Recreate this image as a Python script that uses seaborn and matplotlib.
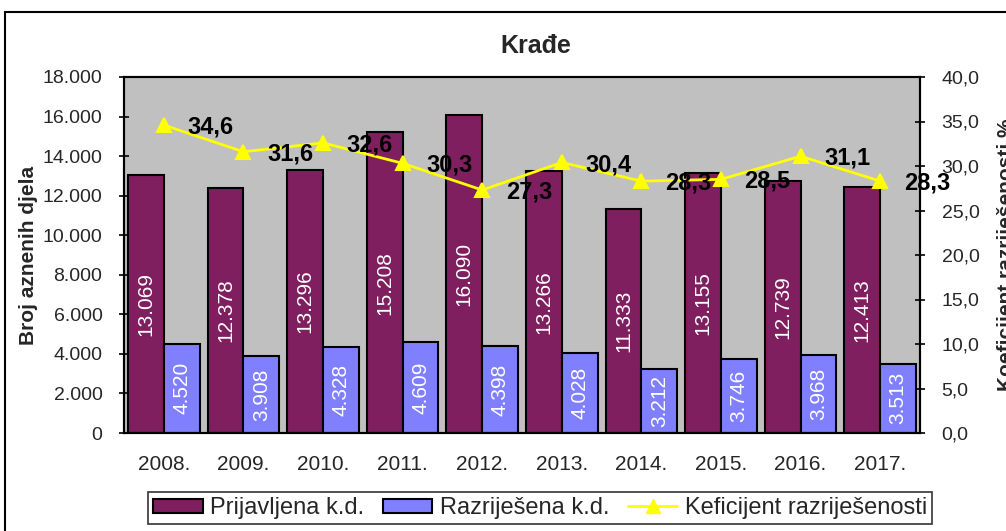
import matplotlib
matplotlib.use("Agg")
import matplotlib.pyplot as plt
import seaborn as sns
import pandas as pd
from matplotlib.patches import Patch, Rectangle
from matplotlib.lines import Line2D

years = ["2008.", "2009.", "2010.", "2011.", "2012.", "2013.", "2014.", "2015.", "2016.", "2017."]
prijavljena = [13069, 12378, 13296, 15208, 16090, 13266, 11333, 13155, 12739, 12413]
razrijesena = [4520, 3908, 4328, 4609, 4398, 4028, 3212, 3746, 3968, 3513]
koeficijent = [34.6, 31.6, 32.6, 30.3, 27.3, 30.4, 28.3, 28.5, 31.1, 28.3]
series_names = ["Prijavljena k.d.", "Razriješena k.d."]
line_name = "Keficijent razriješenosti"
left_ticks = [0, 2000, 4000, 6000, 8000, 10000, 12000, 14000, 16000, 18000]
right_ticks = [0, 5, 10, 15, 20, 25, 30, 35, 40]

c_bar1 = "#7F1F5F"
c_bar2 = "#8080FF"
c_line = "#FFFF00"

sns.set_theme(style="white")
plt.rcParams["font.family"] = ["Liberation Sans", "DejaVu Sans"]

df = pd.DataFrame({
    "year": years * 2,
    "value": prijavljena + razrijesena,
    "series": [series_names[0]] * len(years) + [series_names[1]] * len(years),
})
df_line = pd.DataFrame({"year": years, "coef": koeficijent})

fig = plt.figure(figsize=(10.06, 5.31), dpi=100)
ax = fig.add_axes([124 / 1006, 1 - 433 / 531, (920 - 124) / 1006, (433 - 77) / 531])
ax.set_facecolor("#C0C0C0")

sns.barplot(data=df, x="year", y="value", hue="series", order=years,
            hue_order=series_names, palette=[c_bar1, c_bar2], width=0.9,
            edgecolor="black", linewidth=1.5, saturation=1, legend=False, ax=ax)

for cont in ax.containers:
    labels = [f"{int(v):,}".replace(",", ".") for v in cont.datavalues]
    ax.bar_label(cont, labels=labels, label_type="center", rotation=90,
                 color="white", fontsize=15)

ax.set_ylim(0, 18000)
ax.set_xlim(-0.5, len(years) - 0.5)
ax.set_yticks(left_ticks)
ax.set_yticklabels([f"{v:,}".replace(",", ".") for v in left_ticks], fontsize=14)
ax.set_xticks([i - 0.5 for i in range(len(years) + 1)])
ax.set_xticklabels([])
ax.set_xticks(range(len(years)), minor=True)
ax.set_xticklabels(years, minor=True, fontsize=15)
ax.tick_params(axis="x", which="major", direction="inout", length=7, width=1.2, color="black")
ax.tick_params(axis="x", which="minor", length=0, pad=16)
ax.tick_params(axis="y", direction="inout", length=7, width=1.2, color="black", pad=12)
ax.set_xlabel("")
ax.set_ylabel("Broj aznenih djela", fontsize=15, fontweight="bold", labelpad=3)
for s in ax.spines.values():
    s.set_color("black")
    s.set_linewidth(1.5)
    s.set_visible(True)

ax2 = ax.twinx()
sns.pointplot(data=df_line, x="year", y="coef", order=years, color=c_line,
              marker="^", markersize=10, linewidth=2, errorbar=None, ax=ax2)
ax2.set_ylim(0, 40)
ax2.set_xlim(-0.5, len(years) - 0.5)
ax2.set_yticks(right_ticks)
ax2.set_yticklabels([f"{v:.1f}".replace(".", ",") for v in right_ticks], fontsize=14)
ax2.tick_params(axis="y", direction="inout", length=7, width=1.2, color="black", pad=12)
ax2.set_ylabel("")
ax2.set_xlabel("")
for s in ax2.spines.values():
    s.set_color("black")
    s.set_linewidth(1.5)

for i, v in enumerate(koeficijent):
    ax2.annotate(f"{v:.1f}".replace(".", ","), xy=(i, v), xytext=(17, -1.5),
                 textcoords="offset points", ha="left", va="center",
                 fontsize=17, fontweight="bold", color="black")

fig.text(536 / 1006, 1 - 46 / 531, "Krađe", ha="center", va="center",
         fontsize=18, fontweight="bold")
fig.text(997 / 1006, 0.52, "Koeficijent razriješenosti %", rotation=90,
         ha="left", va="center", fontsize=15, fontweight="bold")

handles = [Patch(facecolor=c_bar1, edgecolor="black", linewidth=1.5),
           Patch(facecolor=c_bar2, edgecolor="black", linewidth=1.5),
           Line2D([0], [0], color=c_line, lw=2, marker="^", markersize=10)]
leg = fig.legend(handles, series_names + [line_name], loc="center",
                 bbox_to_anchor=(540 / 1006, 1 - 508 / 531), ncol=3,
                 fontsize=17, frameon=True, fancybox=False,
                 handlelength=2.1, handleheight=0.55, handletextpad=0.3,
                 columnspacing=0.8, borderpad=0.22, borderaxespad=0)
leg.get_frame().set_edgecolor("black")
leg.get_frame().set_linewidth(1.2)

fig.patches.append(Rectangle((5 / 1006, -0.05), 1.2, 1.05 - 12 / 531,
                             transform=fig.transFigure, fill=False,
                             edgecolor="black", linewidth=1.5))

fig.savefig("out.png", dpi=100)
